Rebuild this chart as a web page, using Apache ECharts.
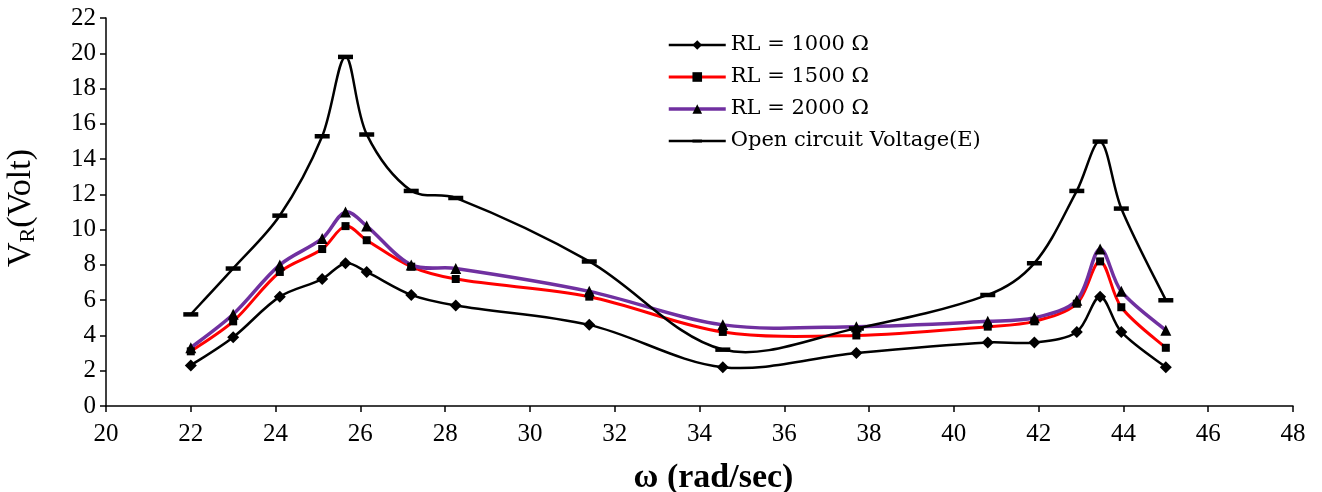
<!DOCTYPE html>
<html>
<head>
<meta charset="utf-8">
<script src="https://cdn.jsdelivr.net/npm/echarts@6/dist/echarts.min.js"></script>
<style>
  html, body { margin: 0; padding: 0; background: #fff; }
  #chart { width: 1322px; height: 492px; }
</style>
</head>
<body>
<div id="chart"></div>
<script>
// Angular frequency (rad/sec) at which each voltage was measured
const omega = [22, 23, 24.1, 25.1, 25.65, 26.15, 27.2, 28.25, 31.4, 34.55, 37.7, 40.8, 41.9, 42.9, 43.45, 43.95, 45];

// Load voltage V_R (Volt) for each load resistance
const rl1000 = [2.3, 3.9, 6.2, 7.2, 8.1, 7.6, 6.3, 5.7, 4.6, 2.2, 3.0, 3.6, 3.6, 4.2, 6.2, 4.2, 2.2];
const rl1500 = [3.1, 4.8, 7.6, 8.9, 10.2, 9.4, 7.9, 7.2, 6.2, 4.2, 4.0, 4.5, 4.8, 5.8, 8.2, 5.6, 3.3];
const rl2000 = [3.3, 5.2, 8.0, 9.5, 11.0, 10.2, 8.0, 7.8, 6.5, 4.6, 4.5, 4.8, 5.0, 6.0, 8.9, 6.5, 4.3];
// Open circuit voltage E
const openCircuit = [5.2, 7.8, 10.8, 15.3, 19.8, 15.4, 12.2, 11.8, 8.2, 3.2, 4.4, 6.3, 8.1, 12.2, 15.0, 11.2, 6.0];

const seriesNames = ['RL = 1000 Ω', 'RL = 1500 Ω', 'RL = 2000 Ω', 'Open circuit Voltage(E)'];

const pairs = ys => omega.map((x, i) => [x, ys[i]]);

const serif = '"Liberation Serif", "DejaVu Serif", serif';
const legendFont = '"DejaVu Serif", "Liberation Serif", serif';

// Horizontal dash marker; the two empty sub-paths keep its box square
const dash = 'path://M0,0 L0,0 M0,5 L14,5 L14,9.2 L0,9.2 Z M14,14 L14,14';

const styles = [
  { ys: rl1000, color: '#000000', width: 2.5, symbol: 'diamond', size: 12 },
  { ys: rl1500, color: '#ff0000', width: 3, symbol: 'rect', size: 8 },
  { ys: rl2000, color: '#7030a0', width: 3.5, symbol: 'triangle', size: 11 },
  { ys: openCircuit, color: '#000000', width: 2.5, symbol: dash, size: 15 }
];

const dist = (a, b) => Math.hypot(b[0] - a[0], b[1] - a[1]);

// Smooth curve through the points: cubic Bezier segments whose tangents
// follow the neighbouring points, scaled by the chord lengths (pixel space).
function curveSeries(name, ys, color, width) {
  return {
    name, type: 'custom', coordinateSystem: 'cartesian2d',
    data: pairs(ys), silent: true, z: 1,
    renderItem(params, api) {
      if (params.dataIndex !== 0) return null;
      const p = omega.map((x, i) => api.coord([x, ys[i]]));
      const n = p.length;
      let d = 'M' + p[0][0] + ',' + p[0][1];
      for (let i = 0; i < n - 1; i++) {
        const p0 = p[Math.max(i - 1, 0)], p1 = p[i], p2 = p[i + 1], p3 = p[Math.min(i + 2, n - 1)];
        const d01 = dist(p0, p1), d12 = dist(p1, p2), d23 = dist(p2, p3);
        const f1 = d01 > 0 ? d12 / (d01 + d12) / 3 : 1 / 6;
        const f2 = d23 > 0 ? d12 / (d12 + d23) / 3 : 1 / 6;
        const c1x = p1[0] + (p2[0] - p0[0]) * f1, c1y = p1[1] + (p2[1] - p0[1]) * f1;
        const c2x = p2[0] - (p3[0] - p1[0]) * f2, c2y = p2[1] - (p3[1] - p1[1]) * f2;
        d += ' C' + c1x + ',' + c1y + ' ' + c2x + ',' + c2y + ' ' + p2[0] + ',' + p2[1];
      }
      return {
        type: 'path',
        shape: { pathData: d },
        style: { fill: null, stroke: color, lineWidth: width, lineJoin: 'round' }
      };
    }
  };
}

// Marker series (the connecting curve is drawn by the custom series)
function markerSeries(name, s) {
  return {
    name, type: 'line', data: pairs(s.ys),
    lineStyle: { opacity: 0, color: s.color, width: s.width },
    itemStyle: { color: '#000' },
    symbol: s.symbol, symbolSize: s.size, showSymbol: true,
    emphasis: { disabled: true }, z: 3
  };
}

const series = [];
styles.forEach((s, i) => series.push(curveSeries(seriesNames[i] + ' ', s.ys, s.color, s.width)));
styles.forEach((s, i) => series.push(markerSeries(seriesNames[i], s)));

const chart = echarts.init(document.getElementById('chart'), null, { renderer: 'canvas' });
chart.setOption({
  animation: false,
  backgroundColor: '#fff',
  grid: { left: 106, right: 29, top: 18, bottom: 86, containLabel: false, outerBoundsMode: 'none' },
  legend: {
    orient: 'vertical', left: 662, top: 28,
    itemWidth: 57, itemHeight: 12, itemGap: 8, itemTextGap: 6,
    textStyle: { fontFamily: legendFont, fontSize: 21, lineHeight: 24, color: '#000' },
    data: seriesNames.map((name, i) => ({
      name,
      lineStyle: { color: styles[i].color, width: styles[i].width, opacity: 1 },
      itemStyle: { color: '#000' }
    }))
  },
  xAxis: {
    type: 'value', min: 20, max: 48, interval: 2,
    name: 'ω (rad/sec)', nameLocation: 'middle', nameGap: 55,
    nameTextStyle: { fontFamily: serif, fontSize: 34, fontWeight: 'bold', color: '#000', padding: [0, 0, 0, 28] },
    axisLine: { lineStyle: { color: '#000', width: 1.5 } },
    axisTick: { show: true, length: 6, lineStyle: { color: '#000', width: 1.5 } },
    axisLabel: { fontFamily: serif, fontSize: 25, color: '#000', margin: 16 },
    splitLine: { show: false }
  },
  yAxis: {
    type: 'value', min: 0, max: 22, interval: 2,
    name: '{v|V}{s|R}{v|(Volt)}', nameLocation: 'middle', nameGap: 67, nameRotate: 90,
    nameTextStyle: {
      padding: [0, 0, 0, 8],
      rich: {
        v: { fontFamily: serif, fontSize: 34, color: '#000' },
        s: { fontFamily: serif, fontSize: 22, color: '#000', verticalAlign: 'bottom', padding: [13, 0, 0, 0] }
      }
    },
    axisLine: { show: true, lineStyle: { color: '#000', width: 1.5 } },
    axisTick: { show: true, length: 6, lineStyle: { color: '#000', width: 1.5 } },
    axisLabel: { fontFamily: serif, fontSize: 25, color: '#000', margin: 10 },
    splitLine: { show: false }
  },
  series
});
</script>
</body>
</html>
